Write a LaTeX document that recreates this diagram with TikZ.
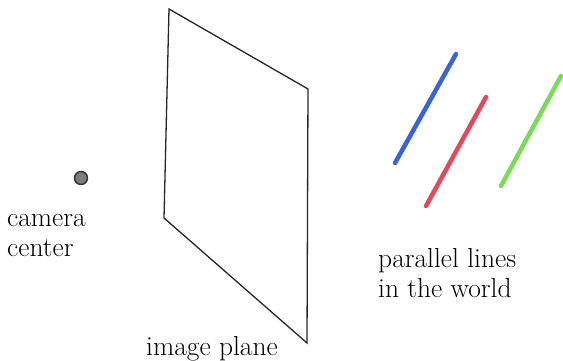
\documentclass[tikz,border=0pt]{standalone}
\usepackage{tikz}
\usepackage{xcolor}
\definecolor{lineblue}{HTML}{3A62DA}
\definecolor{linered}{HTML}{E8475A}
\definecolor{linegreen}{HTML}{78DC55}
\definecolor{dotgray}{HTML}{7C7C7C}

\begin{document}
\begin{tikzpicture}[x=1pt,y=-1pt,line cap=round,
  lbl/.style={inner sep=0pt,align=left,font=\fontsize{27.5}{30}\selectfont},
  worldline/.style={line width=4.5pt}]
\useasboundingbox (0,0) rectangle (563,361);
% camera
\node[circle,draw=black!80,line width=1.4pt,fill=dotgray,minimum size=13pt,inner sep=0pt] (cam) at (81,178) {};
\node[lbl,anchor=base west] (camlbl) at (7,256) {camera\\center};
% image plane
\draw[line width=1.3pt,line join=miter,black!85] (169,9) -- (308,89) -- (307,343) -- (164,218) -- cycle;
\node[lbl,anchor=base west] (planelbl) at (146,355) {image plane};
% parallel lines
\draw[worldline,lineblue] (395,163) -- (456,54);
\draw[worldline,linered] (426,206) -- (486,97);
\draw[worldline,linegreen] (501,186) -- (561,76);
\node[lbl,anchor=base west] (worldlbl) at (378,297) {parallel lines\\in the world};
\end{tikzpicture}
\end{document}
